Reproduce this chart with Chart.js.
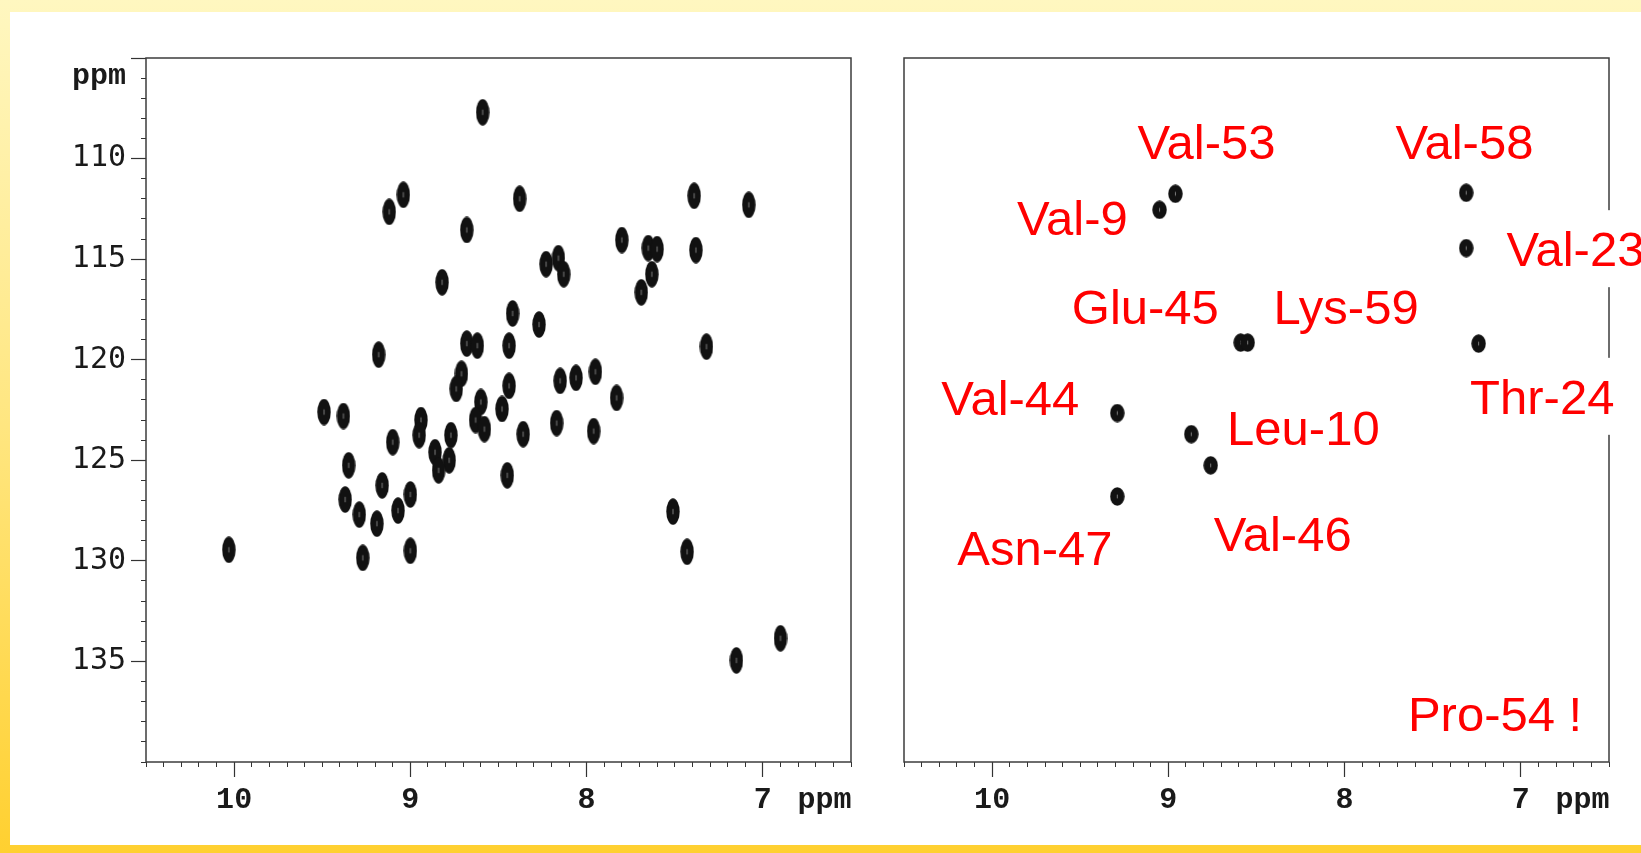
<!DOCTYPE html>
<html>
<head>
<meta charset="utf-8">
<script src="https://cdn.jsdelivr.net/npm/chart.js@4.4.1/dist/chart.umd.min.js"></script>
<style>
  html, body { margin: 0; padding: 0; }
  body {
    width: 1641px; height: 853px; overflow: hidden; position: relative;
    background: linear-gradient(to bottom, #fff7c0 0%, #ffe680 50%, #ffd030 100%);
  }
  #panel { position: absolute; left: 10px; top: 12px; width: 1631px; height: 833px; background: #fff; }
  canvas { position: absolute; top: 0; }
  #hsqcAll { left: 0; }
  #hsqcSel { left: 870px; }
</style>
</head>
<body>
<div id="panel"></div>
<canvas id="hsqcAll" width="870" height="853"></canvas>
<canvas id="hsqcSel" width="771" height="853"></canvas>
<script>
// ── Data ─────────────────────────────────────────────────
// axis ranges (ppm), both axes run "backwards" like an NMR plot
const xRange = [6.5, 10.5];
const yRange = [105, 140];
const xTickValues = [10, 9, 8, 7];
const yTickValues = [110, 115, 120, 125, 130, 135];
const unitLabel = 'ppm';
const xUnitAt = 6.65;
const yUnitAt = 105.9;

// full spectrum: 1H shift / 15N shift of every cross peak
const peaksH = [
  8.59, 9.12, 9.04, 8.38, 8.68, 8.82, 8.23, 8.16, 8.13, 7.80,
  7.65, 7.60, 7.63, 7.69, 7.39, 7.08, 7.38, 8.42, 8.27, 8.68,
  8.62, 8.44, 7.32, 8.71, 8.74, 8.44, 8.48, 8.15, 8.06, 7.95,
  7.83, 8.60, 8.63, 8.58, 8.94, 8.95, 8.77, 8.78, 8.86, 8.84,
  8.36, 8.17, 7.96, 8.45, 9.00, 9.00, 7.51, 7.43, 10.03, 9.18,
  9.49, 9.38, 9.10, 9.35, 9.16, 9.37, 9.29, 9.19, 9.07, 9.27,
  7.15, 6.90
];
const peaksN = [
  107.7, 112.65, 111.8, 112.0, 113.55, 116.15, 115.25, 114.95, 115.75, 114.05,
  114.45, 114.5, 115.75, 116.65, 111.85, 112.3, 114.55, 117.7, 118.25, 119.2,
  119.3, 119.3, 119.35, 120.7, 121.45, 121.3, 122.45, 121.05, 120.9, 120.6,
  121.9, 122.1, 123.0, 123.45, 123.0, 123.75, 123.75, 125.0, 124.6, 125.5,
  123.7, 123.15, 123.55, 125.75, 126.7, 129.5, 127.55, 129.55, 129.45, 119.75,
  122.6, 122.8, 124.1, 125.25, 126.25, 126.95, 127.7, 128.15, 127.5, 129.85,
  134.95, 133.85
];

// selected residues (right panel)
const selectedH = [8.96, 9.05, 7.31, 7.31, 8.59, 8.55, 7.24, 9.29, 8.87, 8.76, 9.29];
const selectedN = [111.75, 112.55, 111.7, 114.45, 119.15, 119.15, 119.2, 122.65, 123.7, 125.25, 126.8];

// residue labels and the spot (ppm) where each one starts
const labelTexts = ['Val-53', 'Val-58', 'Val-9', 'Val-23', 'Glu-45', 'Lys-59',
                    'Val-44', 'Leu-10', 'Thr-24', 'Val-46', 'Asn-47', 'Pro-54 !'];
const labelH = [9.175, 7.712, 9.859, 7.082, 9.548, 8.404, 10.288, 8.667, 7.288, 8.743, 10.198, 7.641];
const labelN = [110.0, 110.0, 113.78, 115.35, 118.23, 118.23, 122.74, 124.26, 122.69, 129.52, 130.2, 138.45];

// ── Drawing helpers ──────────────────────────────────────
const tickColor = '#333';
const tickFont = { family: "'Liberation Mono', 'Courier New', monospace", size: 30, weight: 'bold' };
const numFont = { family: "'DejaVu Sans Mono', monospace", size: 30, weight: 'normal' };
const hidden = 'rgba(0,0,0,0)';

function peakGlyph(w, h) {
    const c = document.createElement('canvas');
    c.width = w; c.height = h;
    const g = c.getContext('2d');
    g.fillStyle = '#111';
    g.beginPath();
    g.ellipse(w / 2, h / 2, w / 2 - 0.3, h / 2 - 0.3, 0, 0, Math.PI * 2);
    g.fill();
    g.fillStyle = 'rgba(255,255,255,0.45)';
    g.fillRect(w / 2 - 0.5, h / 2 - h * 0.1, 1, h * 0.2);
    return c;
}

const framePlugin = {
    id: 'frame',
    afterDraw(chart) {
        const { ctx, chartArea: a } = chart;
        ctx.save();
        ctx.strokeStyle = '#3d3d3d';
        ctx.lineWidth = 1.5;
        ctx.strokeRect(a.left, a.top, a.right - a.left, a.bottom - a.top);
        ctx.restore();
    }
};

const labelPlugin = {
    id: 'residueLabels',
    afterDraw(chart) {
        const { ctx, chartArea: a, scales } = chart;
        ctx.save();
        ctx.font = "49px 'Liberation Sans', Arial, sans-serif";
        ctx.textAlign = 'left';
        ctx.textBaseline = 'alphabetic';
        labelTexts.forEach((t, i) => {
            const px = scales.x.getPixelForValue(labelH[i]);
            const py = scales.y.getPixelForValue(labelN[i]);
            const w = ctx.measureText(t).width;
            // text boxes sticking out of the frame hide the border behind them
            if (px + w > a.right) {
                ctx.fillStyle = '#fff';
                ctx.fillRect(px - 6, py - 56, w + 12, 77);
            }
            ctx.fillStyle = '#ff0000';
            ctx.fillText(t, px, py);
        });
        ctx.restore();
    }
};

function xScales() {
    return {
        x: {
            type: 'linear', position: 'bottom', weight: 1, reverse: true,
            min: xRange[0], max: xRange[1],
            afterBuildTicks: s => { s.ticks = [...xTickValues, xUnitAt].sort((a, b) => a - b).map(v => ({ value: v })); },
            afterFit: s => { s.height = 91; },
            ticks: {
                autoSkip: false, maxRotation: 0, padding: 5, color: '#1a1a1a', font: tickFont,
                callback: v => v === xUnitAt ? unitLabel : String(v)
            },
            grid: {
                drawOnChartArea: false, tickLength: 15, tickWidth: 1.2,
                tickColor: c => (c.tick && c.tick.value === xUnitAt) ? hidden : tickColor
            },
            border: { display: false }
        },
        xMinor: {
            type: 'linear', position: 'bottom', weight: 0, reverse: true,
            min: xRange[0], max: xRange[1],
            afterFit: s => { s.height = 0; },
            ticks: { display: false, stepSize: 0.1 },
            grid: { drawOnChartArea: false, tickLength: 5, tickWidth: 1, tickColor: tickColor },
            border: { display: false }
        }
    };
}

function baseOptions(padding, scales) {
    return {
        responsive: false, animation: false, events: [],
        layout: { padding },
        plugins: { legend: { display: false }, tooltip: { enabled: false } },
        scales
    };
}

// ── Left panel: whole spectrum ───────────────────────────
const leftScales = Object.assign(xScales(), {
    y: {
        type: 'linear', position: 'left', weight: 1, reverse: true,
        min: yRange[0], max: yRange[1],
        afterBuildTicks: s => {
            s.ticks = [yRange[0], yUnitAt, ...yTickValues].map(v => ({ value: v }));
        },
        afterFit: s => { s.width = 146; },
        ticks: {
            autoSkip: false, padding: 5, color: '#1a1a1a',
            font: c => (c.tick && c.tick.value === yUnitAt) ? tickFont : numFont,
            callback: v => v === yUnitAt ? unitLabel : (yTickValues.includes(v) ? String(v) : '')
        },
        grid: {
            drawOnChartArea: false, tickLength: 15, tickWidth: 1.2,
            tickColor: c => (c.tick && c.tick.value === yUnitAt) ? hidden : tickColor
        },
        border: { display: false }
    },
    yMinor: {
        type: 'linear', position: 'left', weight: 0, reverse: true,
        min: yRange[0], max: yRange[1],
        afterFit: s => { s.width = 0; },
        ticks: { display: false, stepSize: 1 },
        grid: { drawOnChartArea: false, tickLength: 5, tickWidth: 1, tickColor: tickColor },
        border: { display: false }
    }
});

new Chart(document.getElementById('hsqcAll'), {
    type: 'scatter',
    data: {
        datasets: [{
            data: peaksH.map((h, i) => ({ x: h, y: peaksN[i] })),
            pointStyle: peakGlyph(14, 27), pointRadius: 7
        }]
    },
    options: baseOptions({ left: 0, top: 58, right: 19, bottom: 0 }, leftScales),
    plugins: [framePlugin]
});

// ── Right panel: assigned residues ───────────────────────
const rightScales = Object.assign(xScales(), {
    y: { type: 'linear', display: false, reverse: true, min: yRange[0], max: yRange[1] }
});

new Chart(document.getElementById('hsqcSel'), {
    type: 'scatter',
    data: {
        datasets: [{
            data: selectedH.map((h, i) => ({ x: h, y: selectedN[i] })),
            pointStyle: peakGlyph(15, 19), pointRadius: 7
        }]
    },
    options: baseOptions({ left: 34, top: 58, right: 32, bottom: 0 }, rightScales),
    plugins: [framePlugin, labelPlugin]
});
</script>
</body>
</html>
